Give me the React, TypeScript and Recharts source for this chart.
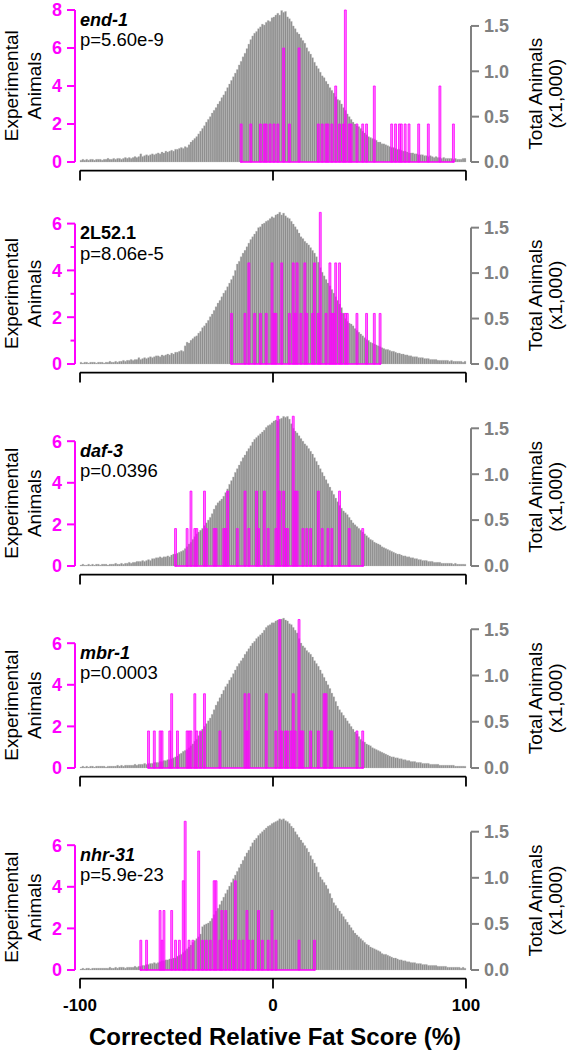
import React from 'react';
import { ComposedChart, Bar, XAxis, YAxis, ReferenceLine } from 'recharts';

const FONT = "'Liberation Sans', Arial, Helvetica, sans-serif";
const MAGENTA = '#ff00ff';
const GRAY = '#808080';

// 1% wide bins, left edges -100 ... 99
const BIN_STARTS = Array.from({ length: 200 }, (_, i) => i - 100);
const X_TICKS = [-100, 0, 100];
const RIGHT_TICKS = [0, 0.5, 1, 1.5];

// total animals per bin (x1,000)
const END1_TOTAL = [
  0.02, 0.03, 0.02, 0.03, 0.02, 0.03, 0.03, 0.02, 0.03, 0.03,
  0.03, 0.02, 0.03, 0.03, 0.04, 0.03, 0.03, 0.04, 0.03, 0.04,
  0.04, 0.03, 0.04, 0.05, 0.04, 0.05, 0.04, 0.05, 0.06, 0.05,
  0.06, 0.09, 0.06, 0.07, 0.08, 0.07, 0.08, 0.09, 0.08, 0.09,
  0.1, 0.09, 0.11, 0.1, 0.12, 0.11, 0.12, 0.13, 0.12, 0.14,
  0.14, 0.15, 0.16, 0.15, 0.17, 0.16, 0.19, 0.22, 0.24, 0.26,
  0.28, 0.31, 0.34, 0.37, 0.4, 0.44, 0.47, 0.5, 0.54, 0.57,
  0.6, 0.64, 0.67, 0.71, 0.74, 0.78, 0.82, 0.86, 0.9, 0.94,
  0.98, 1.02, 1.07, 1.11, 1.16, 1.2, 1.25, 1.3, 1.35, 1.39,
  1.42, 1.44, 1.47, 1.49, 1.52, 1.51, 1.54, 1.56, 1.55, 1.59,
  1.6, 1.62, 1.64, 1.62, 1.67, 1.65, 1.66, 1.6, 1.58, 1.55,
  1.5, 1.47, 1.43, 1.41, 1.37, 1.34, 1.31, 1.26, 1.22, 1.19,
  1.15, 1.1, 1.06, 1.03, 0.99, 0.95, 0.93, 0.89, 0.86, 0.82,
  0.79, 0.76, 0.72, 0.69, 0.68, 0.64, 0.6, 0.57, 0.53, 0.5,
  0.47, 0.44, 0.42, 0.4, 0.39, 0.37, 0.34, 0.32, 0.3, 0.28,
  0.27, 0.26, 0.25, 0.24, 0.22, 0.22, 0.2, 0.2, 0.19, 0.18,
  0.17, 0.16, 0.16, 0.15, 0.14, 0.14, 0.13, 0.12, 0.12, 0.11,
  0.1, 0.1, 0.1, 0.09, 0.09, 0.08, 0.08, 0.08, 0.07, 0.07,
  0.06, 0.07, 0.06, 0.05, 0.06, 0.05, 0.05, 0.04, 0.05, 0.04,
  0.04, 0.04, 0.04, 0.03, 0.04, 0.03, 0.03, 0.03, 0.04, 0.04,
];
const L52_TOTAL = [
  0.02, 0.01, 0.02, 0.02, 0.01, 0.02, 0.02, 0.02, 0.01, 0.02,
  0.02, 0.02, 0.01, 0.02, 0.02, 0.03, 0.02, 0.02, 0.03, 0.02,
  0.03, 0.03, 0.04, 0.03, 0.04, 0.04, 0.05, 0.04, 0.05, 0.05,
  0.07, 0.05, 0.06, 0.07, 0.06, 0.07, 0.08, 0.07, 0.08, 0.09,
  0.09, 0.08, 0.1, 0.09, 0.1, 0.11, 0.1, 0.12, 0.11, 0.13,
  0.13, 0.14, 0.15, 0.14, 0.2, 0.24, 0.23, 0.26, 0.28, 0.3,
  0.31, 0.34, 0.36, 0.4, 0.42, 0.45, 0.48, 0.52, 0.55, 0.59,
  0.63, 0.67, 0.7, 0.74, 0.78, 0.81, 0.85, 0.89, 0.93, 0.97,
  1.03, 1.1, 1.13, 1.18, 1.22, 1.25, 1.29, 1.33, 1.37, 1.4,
  1.43, 1.46, 1.5, 1.51, 1.54, 1.55, 1.57, 1.58, 1.6, 1.62,
  1.61, 1.64, 1.65, 1.67, 1.64, 1.66, 1.63, 1.61, 1.6, 1.57,
  1.54, 1.51, 1.48, 1.44, 1.4, 1.38, 1.35, 1.33, 1.31, 1.28,
  1.25, 1.22, 1.18, 1.12, 1.06, 1.01, 0.97, 0.93, 0.89, 0.86,
  0.82, 0.78, 0.74, 0.7, 0.66, 0.62, 0.56, 0.5, 0.47, 0.45,
  0.44, 0.42, 0.39, 0.37, 0.35, 0.33, 0.31, 0.29, 0.27, 0.26,
  0.24, 0.23, 0.22, 0.21, 0.2, 0.19, 0.18, 0.17, 0.16, 0.16,
  0.15, 0.14, 0.14, 0.13, 0.12, 0.12, 0.11, 0.11, 0.1, 0.1,
  0.09, 0.09, 0.08, 0.08, 0.08, 0.07, 0.07, 0.07, 0.06, 0.06,
  0.06, 0.05, 0.05, 0.05, 0.05, 0.04, 0.04, 0.04, 0.04, 0.04,
  0.04, 0.03, 0.04, 0.03, 0.03, 0.03, 0.03, 0.03, 0.02, 0.03,
];
const DAF3_TOTAL = [
  0.01, 0.02, 0.01, 0.01, 0.02, 0.01, 0.02, 0.01, 0.02, 0.02,
  0.01, 0.02, 0.02, 0.02, 0.01, 0.02, 0.02, 0.02, 0.03, 0.02,
  0.02, 0.03, 0.02, 0.03, 0.03, 0.04, 0.03, 0.04, 0.04, 0.05,
  0.05, 0.05, 0.06, 0.05, 0.06, 0.07, 0.06, 0.08, 0.08, 0.09,
  0.09, 0.1, 0.09, 0.1, 0.1, 0.11, 0.1, 0.12, 0.13, 0.13,
  0.14, 0.15, 0.16, 0.17, 0.19, 0.21, 0.24, 0.26, 0.29, 0.32,
  0.35, 0.37, 0.39, 0.41, 0.44, 0.47, 0.5, 0.53, 0.57, 0.62,
  0.66, 0.69, 0.71, 0.73, 0.76, 0.8, 0.84, 0.89, 0.93, 0.97,
  1.02, 1.06, 1.1, 1.14, 1.18, 1.21, 1.25, 1.28, 1.31, 1.35,
  1.38, 1.4, 1.42, 1.44, 1.46, 1.48, 1.51, 1.53, 1.54, 1.56,
  1.58, 1.59, 1.58, 1.6, 1.61, 1.63, 1.62, 1.63, 1.6, 1.55,
  1.5, 1.47, 1.45, 1.42, 1.39, 1.36, 1.33, 1.31, 1.28, 1.25,
  1.22, 1.18, 1.14, 1.1, 1.06, 1.02, 0.98, 0.94, 0.9, 0.86,
  0.82, 0.78, 0.74, 0.7, 0.66, 0.63, 0.6, 0.58, 0.56, 0.53,
  0.5, 0.47, 0.45, 0.43, 0.41, 0.39, 0.37, 0.35, 0.33, 0.31,
  0.29, 0.28, 0.26, 0.25, 0.24, 0.23, 0.21, 0.2, 0.19, 0.18,
  0.17, 0.16, 0.15, 0.14, 0.13, 0.13, 0.12, 0.11, 0.11, 0.1,
  0.1, 0.09, 0.09, 0.08, 0.08, 0.07, 0.07, 0.06, 0.06, 0.06,
  0.05, 0.05, 0.05, 0.04, 0.04, 0.04, 0.04, 0.03, 0.03, 0.03,
  0.03, 0.03, 0.03, 0.02, 0.03, 0.02, 0.02, 0.02, 0.02, 0.02,
];
const MBR1_TOTAL = [
  0.01, 0.02, 0.01, 0.02, 0.01, 0.02, 0.02, 0.01, 0.02, 0.02,
  0.02, 0.02, 0.02, 0.01, 0.02, 0.02, 0.02, 0.02, 0.02, 0.03,
  0.02, 0.03, 0.02, 0.03, 0.03, 0.03, 0.03, 0.03, 0.04, 0.03,
  0.04, 0.04, 0.04, 0.05, 0.04, 0.05, 0.05, 0.05, 0.06, 0.06,
  0.06, 0.07, 0.07, 0.08, 0.08, 0.09, 0.09, 0.1, 0.11, 0.12,
  0.13, 0.15, 0.16, 0.18, 0.19, 0.2, 0.22, 0.24, 0.26, 0.29,
  0.31, 0.35, 0.39, 0.42, 0.45, 0.48, 0.51, 0.54, 0.58, 0.63,
  0.68, 0.72, 0.76, 0.8, 0.84, 0.88, 0.91, 0.95, 0.98, 1.02,
  1.06, 1.1, 1.13, 1.16, 1.19, 1.23, 1.26, 1.29, 1.32, 1.35,
  1.37, 1.4, 1.42, 1.44, 1.46, 1.49, 1.52, 1.54, 1.55, 1.57,
  1.57, 1.59, 1.6, 1.6, 1.61, 1.62, 1.6, 1.59, 1.56, 1.55,
  1.52, 1.49, 1.46, 1.4, 1.35, 1.32, 1.3, 1.27, 1.25, 1.23,
  1.2, 1.16, 1.13, 1.1, 1.06, 1.02, 0.98, 0.94, 0.9, 0.86,
  0.81, 0.77, 0.72, 0.67, 0.63, 0.6, 0.57, 0.54, 0.51, 0.48,
  0.45, 0.42, 0.39, 0.37, 0.34, 0.31, 0.29, 0.28, 0.26, 0.25,
  0.24, 0.22, 0.21, 0.2, 0.19, 0.18, 0.17, 0.16, 0.15, 0.14,
  0.13, 0.12, 0.12, 0.11, 0.11, 0.1, 0.1, 0.09, 0.09, 0.08,
  0.08, 0.07, 0.07, 0.07, 0.06, 0.06, 0.06, 0.05, 0.05, 0.05,
  0.05, 0.04, 0.04, 0.04, 0.04, 0.04, 0.03, 0.03, 0.03, 0.03,
  0.03, 0.03, 0.03, 0.03, 0.02, 0.02, 0.02, 0.02, 0.02, 0.02,
];
const NHR31_TOTAL = [
  0.01, 0.02, 0.01, 0.02, 0.02, 0.01, 0.02, 0.02, 0.02, 0.02,
  0.02, 0.02, 0.02, 0.02, 0.02, 0.03, 0.02, 0.02, 0.03, 0.02,
  0.03, 0.03, 0.03, 0.02, 0.03, 0.03, 0.03, 0.03, 0.04, 0.03,
  0.04, 0.04, 0.05, 0.05, 0.06, 0.06, 0.07, 0.07, 0.08, 0.07,
  0.08, 0.09, 0.1, 0.1, 0.11, 0.11, 0.12, 0.12, 0.13, 0.13,
  0.15, 0.16, 0.17, 0.19, 0.21, 0.23, 0.25, 0.27, 0.3, 0.32,
  0.34, 0.36, 0.39, 0.47, 0.49, 0.5, 0.51, 0.53, 0.56, 0.6,
  0.64, 0.67, 0.71, 0.75, 0.79, 0.83, 0.87, 0.91, 0.95, 0.99,
  1.03, 1.07, 1.11, 1.15, 1.19, 1.23, 1.27, 1.3, 1.34, 1.38,
  1.41, 1.43, 1.46, 1.48, 1.5, 1.52, 1.54, 1.56, 1.57, 1.59,
  1.6, 1.61, 1.62, 1.64, 1.63, 1.64, 1.62, 1.61, 1.59, 1.56,
  1.54, 1.5, 1.47, 1.44, 1.41, 1.38, 1.35, 1.32, 1.28, 1.24,
  1.2, 1.16, 1.12, 1.06, 1.01, 0.98, 0.95, 0.92, 0.88, 0.83,
  0.78, 0.73, 0.7, 0.67, 0.64, 0.61, 0.58, 0.55, 0.52, 0.49,
  0.46, 0.43, 0.4, 0.38, 0.36, 0.34, 0.32, 0.3, 0.28, 0.27,
  0.25, 0.24, 0.23, 0.22, 0.21, 0.2, 0.18, 0.17, 0.17, 0.16,
  0.15, 0.14, 0.13, 0.13, 0.12, 0.11, 0.11, 0.1, 0.1, 0.09,
  0.09, 0.08, 0.08, 0.08, 0.07, 0.07, 0.07, 0.06, 0.06, 0.06,
  0.05, 0.05, 0.05, 0.05, 0.05, 0.04, 0.04, 0.04, 0.04, 0.04,
  0.03, 0.03, 0.03, 0.03, 0.03, 0.03, 0.03, 0.02, 0.03, 0.02,
];

// experimental animals: left edge of each occupied bin, and bar height on the left axis
const END1_EXP_BINS = [-17, -12, -7, -5, -4, -2, 0, 2, 5, 8, 13, 23, 25, 27, 28, 30, 32, 34, 36, 37, 39, 40, 43, 46, 48, 52, 61, 63, 65, 66, 68, 70, 75, 80, 86, 93];
const END1_EXP = [2, 2, 2, 2, 2, 2, 2, 2, 6, 2, 6, 2, 2, 2, 2, 2, 4, 2, 2, 8, 2, 2, 2, 2, 2, 4, 2, 2, 2, 2, 2, 2, 2, 2, 4, 2];

const L52_EXP_BINS = [-22, -15, -13, -10, -7, -4, -1, 0, 1, 4, 8, 10, 11, 12, 14, 16, 17, 20, 21, 23, 24, 27, 29, 30, 31, 32, 34, 35, 37, 38, 43, 48, 52, 55];
const L52_EXP = [2.16, 2.16, 4.32, 2.16, 2.16, 2.16, 4.32, 2.16, 2.16, 4.32, 2.16, 4.32, 2.16, 4.32, 2.16, 4.32, 2.16, 2.16, 4.32, 2.16, 6.48, 2.16, 4.32, 2.16, 2.16, 4.32, 4.32, 2.16, 2.16, 2.16, 2.16, 2.16, 2.16, 2.16];

const DAF3_EXP_BINS = [-51, -45, -43, -41, -40, -36, -35, -31, -30, -26, -25, -24, -19, -15, -13, -9, -8, -5, -3, 1, 2, 3, 5, 6, 7, 10, 11, 12, 15, 17, 19, 23, 25, 28, 30, 34, 39, 46];
const DAF3_EXP = [1.8, 1.8, 3.6, 1.8, 1.8, 3.6, 1.8, 1.8, 1.8, 1.8, 1.8, 3.6, 1.8, 3.6, 1.8, 3.6, 1.8, 3.6, 1.8, 1.8, 7.2, 3.6, 3.6, 1.8, 1.8, 7.2, 3.6, 3.6, 1.8, 1.8, 1.8, 3.6, 1.8, 1.8, 1.8, 3.6, 1.8, 1.8];

const MBR1_EXP_BINS = [-65, -62, -59, -58, -54, -53, -50, -45, -44, -43, -41, -40, -38, -36, -28, -15, -14, -13, -4, 1, 3, 4, 6, 7, 9, 10, 11, 13, 14, 15, 19, 23, 26, 27, 29, 30, 43, 46];
const MBR1_EXP = [1.78, 1.78, 1.78, 1.78, 1.78, 3.57, 1.78, 1.78, 1.78, 1.78, 3.57, 1.78, 1.78, 3.57, 1.78, 3.57, 1.78, 3.57, 3.57, 1.78, 7.14, 1.78, 1.78, 1.78, 1.78, 3.57, 1.78, 7.14, 1.78, 1.78, 1.78, 1.78, 3.57, 3.57, 1.78, 1.78, 1.78, 1.78];

const NHR31_EXP_BINS = [-69, -66, -59, -58, -57, -53, -51, -49, -47, -46, -44, -42, -39, -37, -35, -33, -31, -30, -28, -27, -25, -23, -21, -20, -18, -16, -14, -13, -11, -8, -6, -3, -1, 1, 13, 21];
const NHR31_EXP = [1.43, 1.43, 2.86, 1.43, 2.86, 2.86, 1.43, 1.43, 4.29, 7.15, 1.43, 1.43, 5.72, 1.43, 1.43, 1.43, 4.29, 4.29, 1.43, 2.86, 2.86, 1.43, 1.43, 4.29, 1.43, 1.43, 2.86, 1.43, 1.43, 2.86, 1.43, 1.43, 2.86, 1.43, 1.43, 1.43];

// layout (px)
const PLOT_LEFT = 75;
const MARGIN_TOP = 10;
const HEAD = 155; // room above the zero line
const AXIS_GAP = 8.6; // zero line to the black x axis
const TICK_X = 10; // length of the black x ticks
const X_DOMAIN = [-102.6, 102.6];
const BAR_W = 1.9;

const PANELS = [
  { gene: 'end-1', italic: true, p: 'p=5.60e-9', total: END1_TOTAL, expBins: END1_EXP_BINS, exp: END1_EXP, leftTicks: [0, 2, 4, 6, 8], leftLabels: [0, 2, 4, 6, 8], zeroY: 161.7, pxL: 19, pxR: 90.7 },
  { gene: '2L52.1', italic: false, p: 'p=8.06e-5', total: L52_TOTAL, expBins: L52_EXP_BINS, exp: L52_EXP, leftTicks: [0, 1, 2, 3, 4, 5, 6], leftLabels: [0, 2, 4, 6], zeroY: 363.7, pxL: 23.4, pxR: 90.9 },
  { gene: 'daf-3', italic: true, p: 'p=0.0396', total: DAF3_TOTAL, expBins: DAF3_EXP_BINS, exp: DAF3_EXP, leftTicks: [0, 2, 4, 6], leftLabels: [0, 2, 4, 6], zeroY: 565.7, pxL: 20.8, pxR: 91.8 },
  { gene: 'mbr-1', italic: true, p: 'p=0.0003', total: MBR1_TOTAL, expBins: MBR1_EXP_BINS, exp: MBR1_EXP, leftTicks: [0, 2, 4, 6], leftLabels: [0, 2, 4, 6], zeroY: 767.7, pxL: 20.8, pxR: 92.5 },
  { gene: 'nhr-31', italic: true, p: 'p=5.9e-23', total: NHR31_TOTAL, expBins: NHR31_EXP_BINS, exp: NHR31_EXP, leftTicks: [0, 2, 4, 6], leftLabels: [0, 2, 4, 6], zeroY: 969.7, pxL: 20.8, pxR: 92.2 },
];

function buildRows(total: number[], bins: number[], exp: number[]) {
  return BIN_STARTS.map((b, i) => {
    const k = bins.indexOf(b);
    return { x: b + 0.5, total: total[i], exp: k >= 0 ? exp[k] : null };
  });
}

function makeLeftTick(labels: number[]) {
  return (props: any) => {
    const { y, payload } = props;
    const major = labels.includes(payload.value);
    return (
      <g>
        <line x1={PLOT_LEFT} x2={PLOT_LEFT - (major ? 8 : 4.5)} y1={y} y2={y} stroke={MAGENTA} strokeWidth={2} />
        {major && (
          <text x={PLOT_LEFT - 13} y={y} dy="0.36em" textAnchor="end" fill={MAGENTA} fontSize={18} fontWeight="bold" fontFamily={FONT}>
            {payload.value}
          </text>
        )}
      </g>
    );
  };
}

function Panel({ cfg, last }: { cfg: any; last: boolean }) {
  const rows = buildRows(cfg.total, cfg.expBins, cfg.exp);
  const leftTop = cfg.leftTicks[cfg.leftTicks.length - 1];
  const leftDomain = [-AXIS_GAP / cfg.pxL, HEAD / cfg.pxL];
  const rightDomain = [-AXIS_GAP / cfg.pxR, HEAD / cfg.pxR];
  const xh = last ? 40 : 14;
  const height = MARGIN_TOP + HEAD + AXIS_GAP + xh;
  const first = cfg.expBins[0];
  const end = cfg.expBins[cfg.expBins.length - 1] + 1;
  const tickEnd = leftDomain[0] - TICK_X / cfg.pxL;

  return (
    <div style={{ position: 'absolute', left: 0, top: cfg.zeroY - HEAD - MARGIN_TOP }}>
      <ComposedChart
        width={567}
        height={height}
        data={rows}
        margin={{ top: MARGIN_TOP, right: 16, bottom: 0, left: 15 }}
        barGap={-BAR_W}
        barCategoryGap={0}
      >
        <XAxis
          dataKey="x"
          type="number"
          domain={X_DOMAIN}
          ticks={X_TICKS}
          interval={0}
          axisLine={false}
          tickLine={false}
          tickSize={10}
          tickMargin={10}
          height={xh}
          tick={last ? { fill: '#000', fontSize: 17, fontWeight: 'bold', fontFamily: FONT } : false}
        />
        <YAxis
          yAxisId="left"
          domain={leftDomain}
          ticks={cfg.leftTicks}
          interval={0}
          axisLine={false}
          tickLine={false}
          width={60}
          tick={makeLeftTick(cfg.leftLabels)}
        />
        <YAxis
          yAxisId="right"
          orientation="right"
          domain={rightDomain}
          ticks={RIGHT_TICKS}
          interval={0}
          axisLine={false}
          tickSize={8}
          tickMargin={5}
          tickLine={{ stroke: GRAY, strokeWidth: 2 }}
          tick={{ fill: GRAY, fontSize: 18, fontWeight: 'bold', fontFamily: FONT }}
          tickFormatter={(v: number) => v.toFixed(1)}
          width={80}
        />
        <Bar yAxisId="right" dataKey="total" fill="#8e8e8e" stroke="#c2c2c2" strokeWidth={0.3} barSize={BAR_W} isAnimationActive={false} />
        <Bar yAxisId="left" dataKey="exp" fill={MAGENTA} fillOpacity={0.55} stroke={MAGENTA} strokeWidth={0.8} barSize={BAR_W} isAnimationActive={false} />
        <ReferenceLine yAxisId="left" segment={[{ x: first, y: 0 }, { x: end, y: 0 }]} stroke={MAGENTA} strokeWidth={1.5} ifOverflow="visible" />
        <ReferenceLine yAxisId="left" segment={[{ x: X_DOMAIN[0], y: 0 }, { x: X_DOMAIN[0], y: leftTop }]} stroke={MAGENTA} strokeWidth={2} ifOverflow="visible" />
        <ReferenceLine yAxisId="right" segment={[{ x: X_DOMAIN[1], y: 0 }, { x: X_DOMAIN[1], y: 1.5 }]} stroke={GRAY} strokeWidth={2} ifOverflow="visible" />
        <ReferenceLine yAxisId="left" segment={[{ x: X_TICKS[0], y: leftDomain[0] }, { x: X_TICKS[2], y: leftDomain[0] }]} stroke="#000" strokeWidth={1.8} ifOverflow="visible" />
        {X_TICKS.map((t) => (
          <ReferenceLine key={t} yAxisId="left" segment={[{ x: t, y: leftDomain[0] }, { x: t, y: tickEnd }]} stroke="#000" strokeWidth={1.8} ifOverflow="visible" />
        ))}
      </ComposedChart>
    </div>
  );
}

export default function App() {
  return (
    <div style={{ position: 'absolute', left: 0, top: 0, width: 567, height: 1050, background: '#fff', overflow: 'hidden' }}>
      {PANELS.map((cfg, i) => (
        <Panel key={cfg.gene} cfg={cfg} last={i === PANELS.length - 1} />
      ))}
      <svg width={567} height={1050} style={{ position: 'absolute', left: 0, top: 0, pointerEvents: 'none' }} fontFamily={FONT}>
        {PANELS.map((cfg) => {
          const leftTop = cfg.leftTicks[cfg.leftTicks.length - 1];
          const topTickY = cfg.zeroY - leftTop * cfg.pxL;
          const leftMid = cfg.zeroY - (leftTop * cfg.pxL) / 2;
          const rightMid = cfg.zeroY - 0.75 * cfg.pxR;
          return (
            <g key={cfg.gene}>
              <text x={80} y={topTickY + 15.8} fontSize={18} fontWeight="bold" fontStyle={cfg.italic ? 'italic' : 'normal'}>
                {cfg.gene}
              </text>
              <text x={80} y={topTickY + 36.2} fontSize={18.5}>
                {cfg.p}
              </text>
              <text transform={`translate(17.5,${leftMid}) rotate(-90)`} textAnchor="middle" fontSize={19}>
                Experimental
              </text>
              <text transform={`translate(41,${leftMid}) rotate(-90)`} textAnchor="middle" fontSize={19}>
                Animals
              </text>
              <text transform={`translate(542,${rightMid}) rotate(-90)`} textAnchor="middle" fontSize={19}>
                Total Animals
              </text>
              <text transform={`translate(562,${rightMid}) rotate(-90)`} textAnchor="middle" fontSize={19}>
                (x1,000)
              </text>
            </g>
          );
        })}
        <text x={275} y={1045} textAnchor="middle" fontSize={24} fontWeight="bold">
          Corrected Relative Fat Score (%)
        </text>
      </svg>
    </div>
  );
}
